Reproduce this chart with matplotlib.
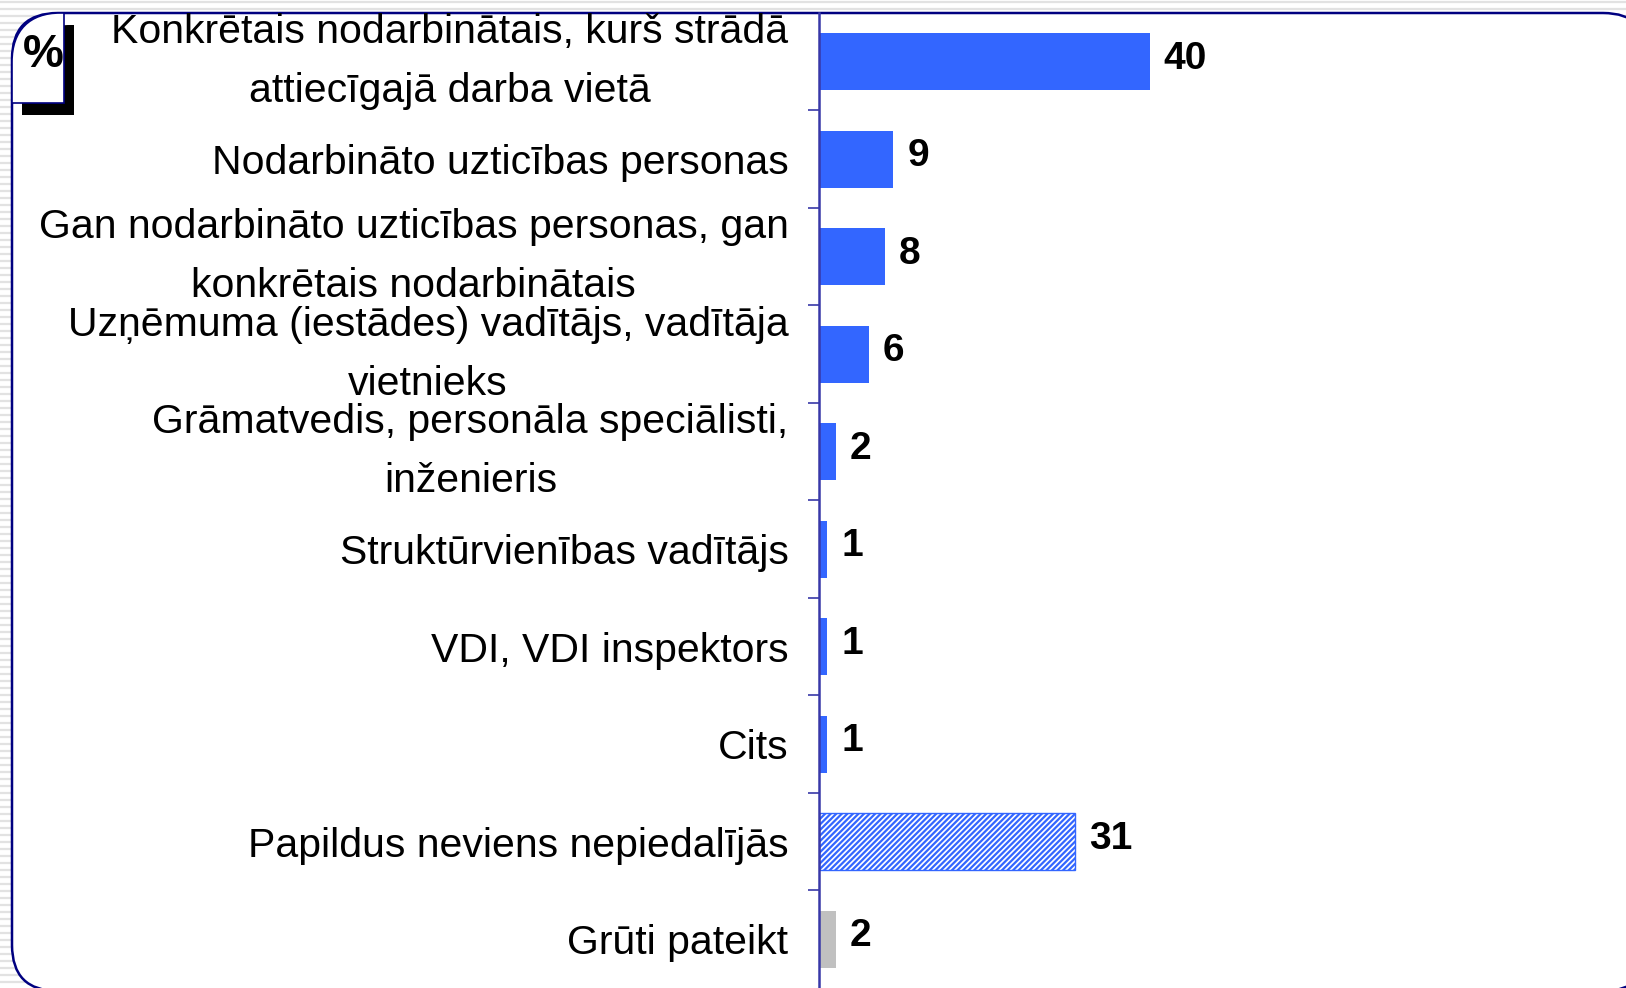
import matplotlib.pyplot as plt
from matplotlib.patches import FancyBboxPatch, PathPatch
from matplotlib.path import Path

plt.rcParams['font.family'] = ['Liberation Sans', 'DejaVu Sans']
plt.rcParams['hatch.linewidth'] = 1.6

labels = [
    'Konkrētais nodarbinātais, kurš strādā\nattiecīgajā darba vietā',
    'Nodarbināto uzticības personas',
    'Gan nodarbināto uzticības personas, gan\nkonkrētais nodarbinātais',
    'Uzņēmuma (iestādes) vadītājs, vadītāja\nvietnieks',
    'Grāmatvedis, personāla speciālisti,\ninženieris',
    'Struktūrvienības vadītājs',
    'VDI, VDI inspektors',
    'Cits',
    'Papildus neviens nepiedalījās',
    'Grūti pateikt',
]
values = [40, 9, 8, 6, 2, 1, 1, 1, 31, 2]
kinds = ['solid'] * 8 + ['hatch', 'gray']

blue = '#3366FF'
navy = '#000080'
spine_col = '#3838A8'

W, H = 1626, 988
fig = plt.figure(figsize=(W / 100, H / 100), dpi=100)

# striped slide background
bg = fig.add_axes([0, 0, 1, 1])
bg.set_xlim(0, W)
bg.set_ylim(H, 0)
bg.axis('off')
for yy in range(2, H, 7):
    bg.axhline(yy, color='#E2E2E2', lw=1.6, zorder=0)

# white rounded frame
frame = FancyBboxPatch((12, 13), 1637, 978,
                       boxstyle='round,pad=0,rounding_size=46',
                       facecolor='white', edgecolor=navy, lw=1.8, zorder=3)
bg.add_patch(frame)


def badge_path(dx, dy):
    verts = [(12, 103), (12, 62), (12, 30), (30, 13), (60, 13), (64, 13), (64, 103), (12, 103)]
    codes = [Path.MOVETO, Path.LINETO, Path.CURVE4, Path.CURVE4, Path.CURVE4,
             Path.LINETO, Path.LINETO, Path.CLOSEPOLY]
    return Path([(x + dx, y + dy) for x, y in verts], codes)


# % badge with shadow
bg.add_patch(PathPatch(badge_path(10, 12), facecolor='black', edgecolor='none', zorder=4))
bg.add_patch(PathPatch(badge_path(0, 0), facecolor='white', edgecolor=navy, lw=1.2, zorder=5))
bg.text(43, 55, '%', fontsize=33, fontweight='bold', ha='center', va='center', zorder=6)

ax = fig.add_axes([819 / W, 0, 1 - 819 / W, 1 - 13 / H])
ax.patch.set_alpha(0)
ypos = list(range(len(values)))
for y, v, k in zip(ypos, values, kinds):
    if k == 'solid':
        ax.barh(y, v, height=0.58, color=blue, edgecolor='none')
    elif k == 'hatch':
        ax.barh(y, v, height=0.58, color='white', edgecolor=blue, hatch='//////', lw=1.0)
    else:
        ax.barh(y, v, height=0.58, color='#C0C0C0', edgecolor='none')
    ax.annotate(str(v), (v, y), xytext=(10, 2), textcoords='offset points',
                ha='left', va='center', fontsize=28, fontweight='bold')

ax.set_xlim(0, 97.6)
ax.set_ylim(9.5, -0.5)
ax.set_xticks([])
ax.set_yticks(ypos)
ax.set_yticklabels(labels, fontsize=29.5, linespacing=1.7)
for t in ax.get_yticklabels():
    t.set_multialignment('center')
    if '\n' in t.get_text():
        t.set_verticalalignment('center')
ax.set_yticks([i + 0.5 for i in range(len(values) - 1)], minor=True)
ax.tick_params(axis='y', which='major', length=0, pad=22)
ax.tick_params(axis='y', which='minor', length=8, width=1.2, color=spine_col)
for s in ['top', 'right', 'bottom']:
    ax.spines[s].set_visible(False)
ax.spines['left'].set_color(spine_col)
ax.spines['left'].set_linewidth(1.8)

fig.savefig('out.png', dpi=100)
